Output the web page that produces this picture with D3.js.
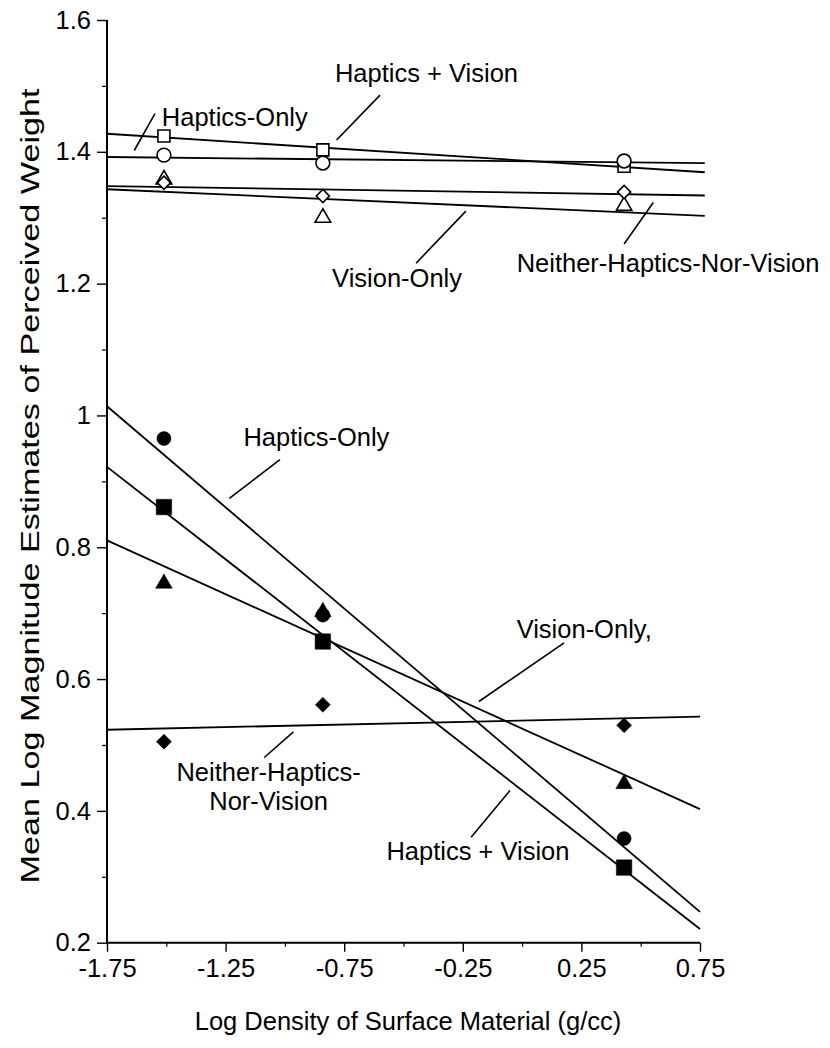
<!DOCTYPE html>
<html>
<head>
<meta charset="utf-8">
<script src="https://cdn.jsdelivr.net/npm/d3@7"></script>
<style>
  html, body { margin: 0; padding: 0; background: #fff; }
  svg { display: block; font-family: "Liberation Sans", Arial, Helvetica, sans-serif; }
</style>
</head>
<body>
<svg id="chart" width="830" height="1048"></svg>
<script>
// ---------------- data ----------------
const densities = [-1.51, -0.84, 0.43];            // log density of surface material (g/cc)
const xTicks = [-1.75, -1.25, -0.75, -0.25, 0.25, 0.75];
const xTickLabels = ["-1.75", "-1.25", "-0.75", "-0.25", "0.25", "0.75"];
const xMinorTicks = [-1.5, -1.0, -0.5, 0.0, 0.5];
const yTicks = [0.2, 0.4, 0.6, 0.8, 1.0, 1.2, 1.4, 1.6];
const yTickLabels = ["0.2", "0.4", "0.6", "0.8", "1", "1.2", "1.4", "1.6"];
const yMinorTicks = [0.3, 0.5, 0.7, 0.9, 1.1, 1.3, 1.5];

// upper group (open symbols)
const upperHapticsOnly   = [1.395, 1.383, 1.386];   // open circle
const upperHapticsVision = [1.424, 1.403, 1.378];   // open square
const upperVisionOnly    = [1.358, 1.300, 1.318];   // open triangle
const upperNeither       = [1.353, 1.333, 1.339];   // open diamond

// lower group (filled symbols)
const lowerHapticsOnly   = [0.965, 0.697, 0.358];   // filled circle
const lowerHapticsVision = [0.861, 0.657, 0.314];   // filled square
const lowerVisionOnly    = [0.745, 0.702, 0.441];   // filled triangle
const lowerNeither       = [0.505, 0.561, 0.530];   // filled diamond

// annotation texts
const labelTexts = ["Haptics + Vision", "Haptics-Only", "Vision-Only", "Neither-Haptics-Nor-Vision",
                    "Haptics-Only", "Vision-Only,", "Neither-Haptics-", "Nor-Vision", "Haptics + Vision"];
const xTitle = "Log Density of Surface Material  (g/cc)";
const yTitle = "Mean Log Magnitude Estimates of Perceived Weight";

// ---------------- layout ----------------
const svg = d3.select("#chart");
const x = d3.scaleLinear().domain([-1.75, 0.75]).range([107, 700]);
const y = d3.scaleLinear().domain([0.2, 1.6]).range([942.7, 20]);
const FS = 25.5;

// least-squares regression line through the three points
function fit(vals) {
  const n = vals.length;
  const mx = d3.mean(densities), my = d3.mean(vals);
  let sxy = 0, sxx = 0;
  for (let i = 0; i < n; i++) { sxy += (densities[i]-mx)*(vals[i]-my); sxx += (densities[i]-mx)**2; }
  const b = sxy / sxx, a = my - b*mx;
  return v => a + b*v;
}

// drawing order: squares, triangles, circles, diamonds (later ones sit on top)
const series = [
  {vals: upperHapticsVision, sym: d3.symbolSquare,   rot: 0,  filled: false, size: 144, x1: 0.77},
  {vals: upperVisionOnly,    sym: d3.symbolTriangle, rot: 0,  filled: false, size: 105, x1: 0.77},
  {vals: upperHapticsOnly,   sym: d3.symbolCircle,   rot: 0,  filled: false, size: 150, x1: 0.77},
  {vals: upperNeither,       sym: d3.symbolSquare,   rot: 45, filled: false, size: 86,  x1: 0.77},
  {vals: lowerHapticsVision, sym: d3.symbolSquare,   rot: 0,  filled: true,  size: 240, x1: 0.75},
  {vals: lowerVisionOnly,    sym: d3.symbolTriangle, rot: 0,  filled: true,  size: 120, x1: 0.75},
  {vals: lowerHapticsOnly,   sym: d3.symbolCircle,   rot: 0,  filled: true,  size: 155, x1: 0.75},
  {vals: lowerNeither,       sym: d3.symbolSquare,   rot: 45, filled: true,  size: 112, x1: 0.75}
];

// ---------------- axes ----------------
const yAxis = d3.axisLeft(y).tickValues(yTicks).tickSize(10).tickPadding(6)
  .tickFormat((d, i) => yTickLabels[i]);
const gy = svg.append("g").attr("transform", `translate(${x(-1.75)},0)`).call(yAxis);
gy.select(".domain").remove();
gy.append("line").attr("x1", 0).attr("x2", 0).attr("y1", y(1.6)).attr("y2", y(0.2) + 1)
  .attr("stroke", "#000").attr("stroke-width", 2);
gy.selectAll(".tick line").attr("stroke", "#000").attr("stroke-width", 1.4);
gy.selectAll(".tick text").attr("font-size", FS).attr("fill", "#000")
  .attr("font-family", "'Liberation Sans', Arial, sans-serif");
svg.append("g").attr("transform", `translate(${x(-1.75)},0)`)
  .call(d3.axisLeft(y).tickValues(yMinorTicks).tickSize(5).tickFormat(""))
  .call(g => g.select(".domain").remove())
  .selectAll(".tick line").attr("stroke", "#000").attr("stroke-width", 1.2);

const xAxis = d3.axisBottom(x).tickValues(xTicks).tickSize(9).tickPadding(7)
  .tickFormat((d, i) => xTickLabels[i]);
const gx = svg.append("g").attr("transform", `translate(0,${y(0.2)})`).call(xAxis);
gx.select(".domain").remove();
gx.append("line").attr("x1", x(-1.75)).attr("x2", x(0.75)).attr("y1", 0).attr("y2", 0)
  .attr("stroke", "#000").attr("stroke-width", 2);
gx.selectAll(".tick line").attr("stroke", "#000").attr("stroke-width", 1.4);
gx.selectAll(".tick text").attr("font-size", FS).attr("fill", "#000")
  .attr("font-family", "'Liberation Sans', Arial, sans-serif");
svg.append("g").attr("transform", `translate(0,${y(0.2)})`)
  .call(d3.axisBottom(x).tickValues(xMinorTicks).tickSize(4).tickFormat(""))
  .call(g => g.select(".domain").remove())
  .selectAll(".tick line").attr("stroke", "#000").attr("stroke-width", 1.2);

// axis titles
svg.append("text").attr("x", 408).attr("y", 1030).attr("text-anchor", "middle")
  .attr("font-size", FS).attr("fill", "#000").text(xTitle);
svg.append("text").attr("transform", "translate(39,486) rotate(-90)").attr("text-anchor", "middle")
  .attr("font-size", FS).attr("fill", "#000")
  .attr("textLength", 795).attr("lengthAdjust", "spacingAndGlyphs").text(yTitle);

// ---------------- regression lines ----------------
const line = d3.line().x(d => x(d[0])).y(d => y(d[1]));
series.forEach(s => {
  const f = fit(s.vals);
  svg.append("path").attr("d", line([[-1.75, f(-1.75)], [s.x1, f(s.x1)]]))
    .attr("fill", "none").attr("stroke", "#000").attr("stroke-width", 1.8);
});

// ---------------- markers ----------------
series.forEach(s => {
  svg.append("g").selectAll("path").data(s.vals).join("path")
    .attr("transform", (d, i) => `translate(${x(densities[i])},${y(d)}) rotate(${s.rot})`)
    .attr("d", d3.symbol().type(s.sym).size(s.size))
    .attr("fill", s.filled ? "#000" : "#fff")
    .attr("stroke", "#000").attr("stroke-width", s.filled ? 0.5 : 1.6);
});

// ---------------- annotations (positions in data units) ----------------
const anno = [
  {t: 0, tx: -0.789, ty: 1.506, anchor: "start", l: [-0.599, 1.486, -0.782, 1.418]},
  {t: 1, tx: -1.519, ty: 1.439, anchor: "start", l: [-1.548, 1.458, -1.635, 1.402]},
  {t: 2, tx: -0.801, ty: 1.195, anchor: "start", l: [-0.237, 1.310, -0.447, 1.231]},
  {t: 3, tx: -0.023, ty: 1.218, anchor: "start", l: [0.553, 1.323, 0.430, 1.260]},
  {t: 4, tx: -1.175, ty: 0.953, anchor: "start", l: [-1.021, 0.933, -1.234, 0.874]},
  {t: 5, tx: -0.023, ty: 0.662, anchor: "start", l: [0.177, 0.655, -0.182, 0.566]},
  {t: 6, tx: -1.069, ty: 0.446, anchor: "middle", l: [-0.964, 0.520, -1.087, 0.481]},
  {t: 7, tx: -1.069, ty: 0.402, anchor: "middle", l: null},
  {t: 8, tx: -0.572, ty: 0.325, anchor: "start", l: [-0.051, 0.431, -0.215, 0.360]}
];
anno.forEach(a => {
  svg.append("text").attr("x", x(a.tx)).attr("y", y(a.ty)).attr("text-anchor", a.anchor)
    .attr("font-size", FS).attr("fill", "#000").text(labelTexts[a.t]);
  if (a.l) {
    svg.append("line").attr("x1", x(a.l[0])).attr("y1", y(a.l[1]))
      .attr("x2", x(a.l[2])).attr("y2", y(a.l[3]))
      .attr("stroke", "#000").attr("stroke-width", 1.6);
  }
});
</script>
</body>
</html>
